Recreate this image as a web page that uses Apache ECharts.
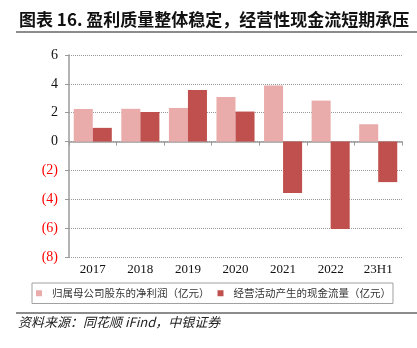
<!DOCTYPE html>
<html><head><meta charset="utf-8">
<script src="https://cdn.jsdelivr.net/npm/echarts@6/dist/echarts.min.js"></script>
<style>html,body{margin:0;padding:0;background:#fff}#c{width:417px;height:348px}</style>
</head><body><div id="c"></div>
<script>
const categories = ['2017','2018','2019','2020','2021','2022','23H1'];
const netProfit = [2.26, 2.27, 2.33, 3.09, 3.88, 2.84, 1.20];
const operatingCashFlow = [0.95, 2.05, 3.58, 2.08, -3.57, -6.06, -2.81];
const seriesNames = ['归属母公司股东的净利润（亿元）', '经营活动产生的现金流量（亿元）'];
const titleText = '图表 16. 盈利质量整体稳定，经营性现金流短期承压';
const sourceText = '资料来源：同花顺 iFind，中银证券';

const chart = echarts.init(document.getElementById('c'), null, {renderer: 'canvas'});
const serif = '"Liberation Serif", "DejaVu Serif", serif';
const cjk = '"Noto Sans CJK SC", sans-serif';
chart.setOption({
  animation: false,
  title: {
    text: titleText, left: 14, top: 6,
    textStyle: {fontFamily: cjk, fontSize: 17, fontWeight: 'bold', color: '#111'}
  },
  graphic: [
    {type: 'rect', shape: {x: 16, y: 31, width: 401, height: 2}, style: {fill: '#8c8c8c'}},
    {type: 'rect', shape: {x: 16, y: 312, width: 401, height: 2}, style: {fill: '#8c8c8c'}},
    {type: 'text', left: 18, top: 316, style: {text: sourceText, font: 'italic 13px ' + cjk, fill: '#222'}}
  ],
  legend: {
    left: 32, top: 283,
    padding: [5, 2, 5, 4],
    borderColor: '#a0a0a0', borderWidth: 1,
    itemWidth: 6, itemHeight: 6, itemGap: 8,
    icon: 'rect',
    textStyle: {fontFamily: cjk, fontSize: 10.5, color: '#333', padding: [0, 0, 0, 5]},
    data: seriesNames
  },
  grid: {left: 69, right: 15, top: 55, bottom: 91, containLabel: false},
  xAxis: [{
    type: 'category', data: categories, position: 'bottom',
    axisLine: {show: false, onZero: false}, axisTick: {show: false},
    axisLabel: {fontFamily: serif, fontSize: 13, color: '#111', margin: 6}
  }, {
    type: 'category', data: categories, position: 'bottom',
    axisLine: {show: true, onZero: true, lineStyle: {color: '#9a9a9a', width: 1.5}},
    axisTick: {show: true, length: 4, lineStyle: {color: '#9a9a9a'}},
    axisLabel: {show: false}
  }],
  yAxis: {
    type: 'value', min: -8, max: 6, interval: 2,
    axisLine: {show: true, lineStyle: {color: '#9a9a9a', width: 1.5}},
    axisTick: {show: true, length: 4, lineStyle: {color: '#9a9a9a'}},
    splitLine: {show: true, lineStyle: {color: '#9a9a9a', type: [1, 1], width: 1}},
    axisLabel: {
      fontFamily: serif, fontSize: 14, margin: 11,
      formatter: v => v < 0 ? '{n|(' + (-v) + ')}' : '{p|' + v + '}',
      rich: {n: {color: '#ff0000', fontFamily: serif, fontSize: 14}, p: {color: '#111', fontFamily: serif, fontSize: 14}}
    }
  },
  series: [
    {name: seriesNames[0], type: 'bar', data: netProfit, barGap: '0%', barCategoryGap: '20%',
     itemStyle: {color: '#EAABAB'}},
    {name: seriesNames[1], type: 'bar', data: operatingCashFlow, barGap: '0%', barCategoryGap: '20%',
     itemStyle: {color: '#C0504D'}}
  ]
});
</script></body></html>
